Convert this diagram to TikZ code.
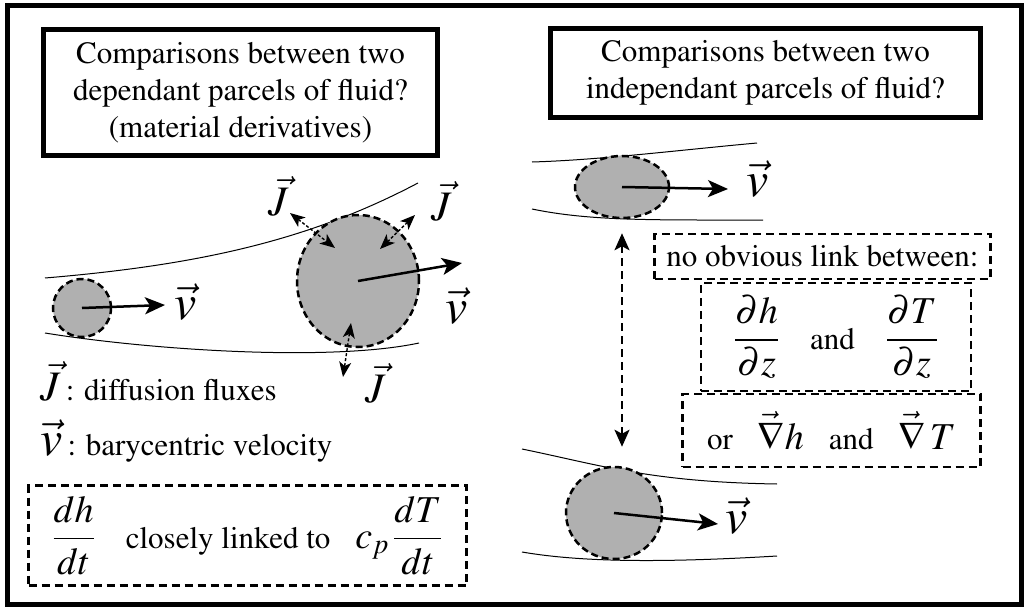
\documentclass[tikz,border=0pt]{standalone}
\usepackage[T1]{fontenc}
\usepackage{mathptmx}
\usetikzlibrary{arrows.meta,shapes.geometric}
\definecolor{parcelgray}{RGB}{176,176,176}
\newcommand{\mth}[1]{{\fontsize{38}{42}\selectfont$\displaystyle #1$}}
\newcommand{\vlab}{{\fontsize{50}{52}\selectfont$\vec{v}$}}
\newcommand{\Jlab}{{\fontsize{42}{46}\selectfont$\vec{J}$}}
\begin{document}
\begin{tikzpicture}[x=1pt,y=-1pt,
  every node/.style={font=\fontsize{31}{37}\selectfont, inner sep=0pt},
  titlebox/.style={draw, line width=4.5pt, align=center},
  dbox/.style={draw, line width=2.5pt, dash pattern=on 8pt off 5pt, align=center},
  parcel/.style={fill=parcelgray, draw, line width=2.5pt, dash pattern=on 7pt off 4pt},
  stream/.style={line width=1pt},
  vel/.style={line width=2.5pt, -{Stealth[length=20pt,width=17pt,inset=5pt]}},
  flux/.style={line width=1.4pt, dash pattern=on 3pt off 2pt,
    {Stealth[length=15pt,width=12pt,inset=4pt]}-{Stealth[length=15pt,width=12pt,inset=4pt]}},
  link/.style={line width=2.5pt, dash pattern=on 8pt off 5pt,
    {Stealth[length=17pt,width=15pt,inset=4pt]}-{Stealth[length=17pt,width=15pt,inset=4pt]}}]
\useasboundingbox (0,0) rectangle (1026,610);
\fill[white] (0,0) rectangle (1026,610);
\draw[line width=5pt] (7,6) rectangle (1021,604);

% titles
\node[titlebox, minimum width=394pt, minimum height=126pt] (t1) at (240.5,92.5)
  {Comparisons between two\\ dependant parcels of fluid?\\ (material derivatives)};
\node[titlebox, minimum width=430pt, minimum height=89pt] (t2) at (765.5,73)
  {Comparisons between two\\ independant parcels of fluid?};

% left streamlines
\draw[stream] (45,278) .. controls (200,265) and (310,240) .. (418,183);
\draw[stream] (45,333) .. controls (150,350) and (330,362) .. (419,343);

% left parcels
\node[parcel, circle, minimum size=58pt] (p1) at (82,308) {};
\node[parcel, ellipse, minimum width=122pt, minimum height=132pt] (p2) at (358,281) {};

% velocity arrows left
\coordinate (a1) at (165,305);
\coordinate (a2) at (462,263);
\draw[vel] (p1.center) -- (a1);
\draw[vel] (p2.center) -- (a2);
\node (v1) at (186,302) {\vlab};
\node (v2) at (457,306) {\vlab};

% flux arrows
\coordinate (f1o) at (290,213); \coordinate (f1i) at (335,248);
\coordinate (f2o) at (415,215); \coordinate (f2i) at (380,249);
\coordinate (f3i) at (351,323); \coordinate (f3o) at (343,377);
\draw[flux] (f1o) -- (f1i);
\draw[flux] (f2o) -- (f2i);
\draw[flux] (f3i) -- (f3o);
\node (j1) at (279,196) {\Jlab};
\node (j2) at (442,201) {\Jlab};
\node (j3) at (376,383) {\Jlab};

% legend
\node[anchor=base west] (lj) at (40,400) {\Jlab\,: diffusion fluxes};
\node[anchor=base west] (lv) at (40,455) {\vlab\,: barycentric velocity};

% material derivative box
\node[dbox, minimum width=438pt, minimum height=100pt] (b1) at (247.5,535.5)
  {\mth{\frac{dh}{dt}}\quad closely linked to\;\; \mth{c_p\,\frac{dT}{dt}}};

% right streamlines
\draw[stream] (532,162) .. controls (600,160) and (680,150) .. (757,143);
\draw[stream] (532,209) .. controls (590,221) and (650,220) .. (763,220);
\draw[stream] (522,449) .. controls (600,465) and (650,482) .. (777,484);
\draw[stream] (522,552) .. controls (580,562) and (660,563) .. (777,556);

% right parcels
\node[parcel, ellipse, minimum width=94pt, minimum height=62pt] (p3) at (622,187) {};
\node[parcel, ellipse, minimum width=96pt, minimum height=92pt] (p4) at (614,513) {};
\coordinate (a3) at (728,189);
\coordinate (a4) at (718,524);
\draw[vel] (p3.center) -- (a3);
\draw[vel] (p4.center) -- (a4);
\node (v3) at (758,179) {\vlab};
\node (v4) at (737,516) {\vlab};

% link arrow
\draw[link, shorten <=14pt, shorten >=19pt] (p3.south) -- (p3.south |- p4.north);

% right boxes
\node[dbox, minimum width=336pt, minimum height=45pt] (b2) at (822.5,256.5)
  {no obvious link between:};
\node[dbox, minimum width=270pt, minimum height=108pt] (b3) at (836,337)
  {\mth{\frac{\partial h}{\partial z}}\quad and\quad \mth{\frac{\partial T}{\partial z}}};
\node[dbox, minimum width=298pt, minimum height=73pt] (b4) at (831.5,430.5)
  {or\;\; \mth{\vec{\nabla} h}\;\; and\;\; \mth{\vec{\nabla}\,T}};
\end{tikzpicture}
\end{document}
